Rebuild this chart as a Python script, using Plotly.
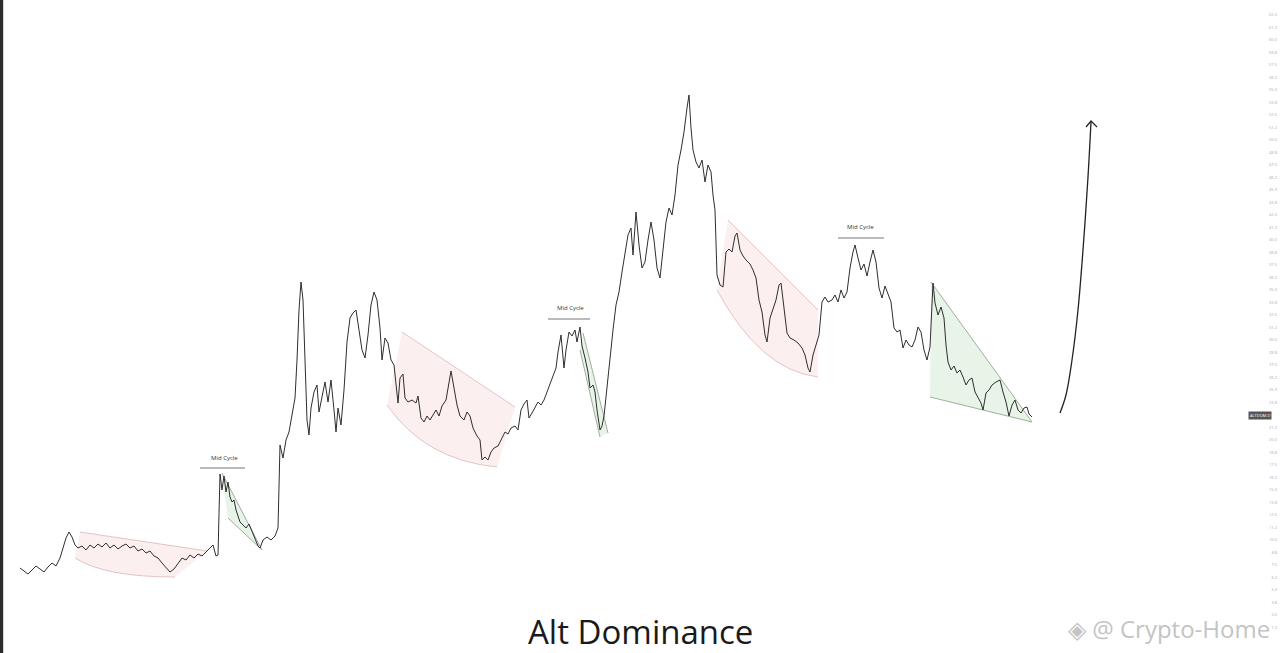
import plotly.graph_objects as go

# ---- data: time index (weeks) and alt dominance value ----
week = [20, 24, 28, 32, 36, 40, 44, 48, 52, 56, 60, 63, 66, 69, 72, 75, 78, 82, 86, 90,
        94, 98, 102, 106, 110, 114, 118, 122, 126, 130, 134, 138, 142, 146, 150, 154, 158, 162, 166, 170,
        174, 178, 182, 186, 190, 194, 198, 202, 206, 210, 213, 216, 218, 220, 222, 224, 226, 228, 230, 232,
        234, 236, 238, 240, 243, 246, 249, 252, 255, 258, 260, 263, 267, 271, 275, 278, 280, 283, 286, 289,
        292, 295, 297, 299, 301, 303, 305, 307, 309, 311, 314, 317, 319, 322, 325, 328, 331, 334, 336, 338,
        341, 344, 347, 350, 353, 356, 359, 362, 365, 368, 371, 374, 377, 380, 382, 385, 388, 391, 394, 396,
        398, 400, 403, 405, 408, 412, 416, 418, 421, 424, 427, 430, 433, 436, 439, 442, 446, 449, 451, 454,
        457, 460, 464, 467, 470, 473, 477, 480, 482, 485, 488, 491, 494, 498, 502, 505, 508, 511, 515, 518,
        521, 524, 527, 529, 532, 535, 538, 541, 544, 547, 550, 553, 556, 558, 561, 564, 566, 569, 572, 575,
        577, 580, 582, 585, 588, 590, 593, 595, 597, 600, 602, 604, 607, 610, 613, 616, 619, 622, 625, 628,
        631, 633, 636, 639, 642, 645, 648, 651, 654, 657, 660, 663, 666, 669, 672, 675, 678, 681, 684, 687,
        689, 691, 693, 696, 699, 702, 705, 708, 711, 713, 715, 717, 720, 723, 726, 729, 732, 735, 737, 740,
        743, 746, 750, 753, 756, 759, 762, 765, 767, 770, 773, 776, 779, 781, 784, 787, 790, 794, 798, 802,
        805, 808, 810, 813, 816, 819, 822, 825, 828, 832, 835, 838, 841, 844, 847, 850, 853, 855, 858, 861,
        864, 867, 870, 873, 876, 879, 882, 885, 888, 891, 894, 897, 900, 903, 906, 909, 912, 915, 918, 921,
        924, 927, 930, 933, 935, 938, 941, 944, 946, 948, 951, 954, 957, 960, 963, 966, 969, 972, 975, 978,
        981, 983, 986, 989, 992, 996, 1000, 1003, 1006, 1009, 1012, 1015, 1018, 1021, 1024, 1027, 1029, 1032]

dominance = [7.2, 6.9, 6.6, 7.0, 7.4, 7.1, 6.8, 7.3, 7.7, 7.4, 8.2, 9.2, 10.2, 10.8, 10.3, 9.5, 9.2, 9.4, 9.0, 9.5,
             9.2, 9.6, 9.3, 9.7, 9.2, 9.5, 9.1, 9.4, 9.6, 9.2, 9.4, 8.9, 9.1, 8.7, 8.9, 8.4, 8.2, 7.7, 7.2, 6.8,
             7.1, 7.6, 8.2, 8.0, 8.5, 8.2, 8.6, 8.4, 8.8, 9.3, 9.5, 8.4, 8.5, 16.6, 15.0, 16.4, 14.8, 15.8, 14.3, 13.8,
             14.0, 13.0, 12.4, 11.8, 11.5, 11.2, 11.6, 10.8, 10.2, 9.4, 9.2, 10.0, 10.3, 10.0, 10.4, 11.2, 19.5, 18.2, 20.0, 20.8,
             22.5, 24.2, 28.0, 33.0, 35.8, 34.0, 28.0, 22.0, 20.5, 23.2, 24.8, 25.5, 22.8, 24.5, 25.8, 23.8, 26.0, 23.0, 20.8, 23.2,
             21.5, 25.0, 29.8, 32.2, 32.7, 33.0, 30.8, 29.0, 28.2, 30.5, 33.5, 34.8, 34.0, 31.2, 28.0, 30.2, 29.7, 28.0, 27.5, 25.5,
             23.7, 26.2, 26.6, 24.2, 23.8, 24.0, 23.7, 24.4, 22.2, 21.8, 22.4, 22.0, 22.5, 23.0, 22.4, 23.4, 24.0, 25.8, 26.9, 25.2,
             23.5, 22.4, 22.0, 22.8, 22.4, 21.2, 20.4, 20.0, 18.0, 18.3, 18.0, 18.8, 19.2, 19.4, 20.2, 20.8, 20.6, 21.2, 21.4, 21.0,
             23.0, 23.6, 24.0, 22.2, 22.7, 23.2, 23.8, 23.5, 24.0, 24.8, 25.6, 26.4, 27.2, 28.8, 30.5, 27.2, 29.0, 30.8, 30.4, 31.0,
             29.8, 31.3, 29.4, 28.2, 26.8, 25.2, 25.5, 24.8, 23.0, 21.0, 21.4, 22.4, 25.5, 28.0, 31.0, 33.5, 34.8, 36.8, 38.8, 40.5,
             41.2, 38.5, 42.8, 39.5, 37.2, 37.8, 40.0, 41.8, 40.0, 37.2, 36.2, 38.8, 41.8, 43.2, 42.5, 44.5, 47.5, 49.0, 50.8, 53.2,
             54.5, 51.2, 49.0, 47.8, 47.2, 48.0, 45.8, 47.5, 46.8, 44.5, 43.0, 36.5, 35.5, 35.3, 38.8, 39.1, 38.8, 40.4, 40.7, 39.0,
             38.4, 38.0, 37.6, 37.0, 36.2, 34.0, 32.8, 30.5, 29.8, 32.2, 33.0, 34.0, 35.5, 35.7, 33.2, 30.7, 30.2, 30.0, 29.7, 29.2,
             28.5, 27.2, 26.8, 28.5, 29.5, 30.5, 33.8, 34.3, 33.8, 34.0, 34.5, 33.8, 35.0, 34.2, 34.8, 37.2, 38.8, 39.5, 38.2, 37.0,
             37.6, 36.4, 37.8, 39.0, 37.8, 35.2, 34.2, 35.4, 34.6, 33.8, 31.2, 30.8, 31.0, 29.2, 30.0, 29.5, 29.3, 30.0, 31.3, 30.8,
             29.0, 28.0, 29.3, 35.7, 33.7, 32.5, 33.3, 32.2, 29.5, 27.8, 27.0, 27.4, 26.7, 27.0, 26.3, 25.5, 26.0, 26.2, 24.8, 24.2,
             23.7, 23.0, 24.7, 25.0, 25.5, 25.8, 26.0, 24.8, 23.8, 22.4, 23.5, 24.0, 23.0, 22.7, 23.2, 23.3, 22.6, 22.3]

# pattern zones: pink = bearish curved channels, green = falling wedges
pink_zones = [  # (top-left, top-right, bottom-right, bottom-control, bottom-left)
    [(80, 10.8), (207, 8.9), (175, 6.3), (105, 6.3), (75, 8.2)],
    [(402, 30.8), (515, 23.3), (497, 17.3), (425, 18.0), (387, 23.5)],
    [(728, 42.0), (818, 33.0), (818, 26.3), (760, 27.0), (717, 35.0)],
]
green_zones = [
    [(222, 16.7), (262, 9.0), (228, 12.2)],
    [(583, 30.7), (608, 20.7), (600, 20.3), (580, 29.0)],
    [(931, 35.8), (1032, 21.8), (930, 24.3)],
]
mid_cycle = [(224, 17.6, 200, 245, 17.2), (570, 32.6, 548, 590, 32.1), (860, 40.7, 838, 884, 40.2)]
arrow_x = [1060, 1066, 1072, 1078, 1083, 1088, 1091]
arrow_y = [22.7, 24.5, 28.0, 33.0, 39.0, 46.3, 51.8]
head_x = [1086, 1091, 1097]
head_y = [51.3, 51.9, 51.3]
last_value = 22.5

fig = go.Figure()
shapes = []

for z in pink_zones:
    (x1, y1), (x2, y2), (x3, y3), (cx, cy), (x4, y4) = z
    path = f"M {x1},{y1} L {x2},{y2} L {x3},{y3} Q {cx},{cy} {x4},{y4} Z"
    shapes.append(dict(type="path", path=path, xref="x", yref="y",
                       fillcolor="rgba(250,226,226,0.55)", line=dict(width=0), layer="below"))
    shapes.append(dict(type="line", x0=x1, y0=y1, x1=x2, y1=y2, xref="x", yref="y",
                       line=dict(color="#e3c4c4", width=1), layer="below"))
    shapes.append(dict(type="path", path=f"M {x4},{y4} Q {cx},{cy} {x3},{y3}", xref="x", yref="y",
                       line=dict(color="#e3c4c4", width=1), layer="below"))

for z in green_zones:
    path = "M " + " L ".join(f"{x},{y}" for x, y in z) + " Z"
    shapes.append(dict(type="path", path=path, xref="x", yref="y",
                       fillcolor="rgba(220,238,220,0.65)", line=dict(width=0), layer="below"))
    if len(z) == 3:
        edges = [(z[0], z[1]), (z[2], z[1])]
    else:
        edges = [(z[0], z[1]), (z[3], z[2])]
    for a, b in edges:
        shapes.append(dict(type="line", x0=a[0], y0=a[1], x1=b[0], y1=b[1], xref="x", yref="y",
                           line=dict(color="#9fae9f", width=1), layer="below"))

annotations = []
for tx, ty, ux0, ux1, uy in mid_cycle:
    shapes.append(dict(type="line", x0=ux0, x1=ux1, y0=uy, y1=uy, xref="x", yref="y",
                       line=dict(color="#777", width=1)))
    annotations.append(dict(x=tx, y=ty, xref="x", yref="y", text="Mid Cycle", showarrow=False,
                            font=dict(size=6, color="#333", family="Open Sans"), yanchor="bottom"))

# left dark strip
shapes.append(dict(type="rect", xref="paper", yref="paper", x0=0, x1=0.0025, y0=0, y1=1,
                   fillcolor="#2b2b2b", line=dict(width=0)))

fig.add_trace(go.Scatter(x=week, y=dominance, mode="lines",
                         line=dict(color="#2e2e2e", width=1), hoverinfo="skip", showlegend=False))
fig.add_trace(go.Scatter(x=arrow_x, y=arrow_y, mode="lines", line=dict(color="#222", width=1.3, shape="spline"),
                         hoverinfo="skip", showlegend=False))
fig.add_trace(go.Scatter(x=head_x, y=head_y, mode="lines", line=dict(color="#222", width=1.2),
                         hoverinfo="skip", showlegend=False))

# current value tag on right axis
annotations.append(dict(x=1260, y=last_value, xref="x", yref="y", text="ALTDOM.D", showarrow=False,
                        font=dict(size=4, color="#fff"), bgcolor="#555", borderpad=1))

annotations.append(dict(x=0.5, y=0.033, xref="paper", yref="paper", text="Alt Dominance", showarrow=False,
                        font=dict(size=33, color="#1a1a1a", family="Open Sans"), yanchor="middle"))
annotations.append(dict(x=0.99375, y=0.038, xref="paper", yref="paper", text="◈ @ Crypto-Home",
                        showarrow=False, xanchor="right", yanchor="middle",
                        font=dict(size=24, color="#c4c4c4", family="Open Sans")))

tick_vals = [v * 1.25 for v in range(1, 51) if abs(v * 1.25 - last_value) > 0.9]
fig.update_layout(
    width=1280, height=653, margin=dict(l=0, r=0, t=0, b=0),
    paper_bgcolor="white", plot_bgcolor="white",
    xaxis=dict(range=[0, 1280], visible=False, fixedrange=True),
    yaxis=dict(range=[-1.3, 64], side="right", showgrid=False, zeroline=False,
               tickvals=tick_vals, ticktext=[f"{v:.1f}" for v in tick_vals],
               ticklabelposition="inside", tickfont=dict(size=4, color="#aaa"), ticks=""),
    shapes=shapes, annotations=annotations, showlegend=False,
)

fig.write_html("out.html", config={"displayModeBar": False},
               post_script="document.body.style.margin='0px';document.body.style.overflow='hidden';")
